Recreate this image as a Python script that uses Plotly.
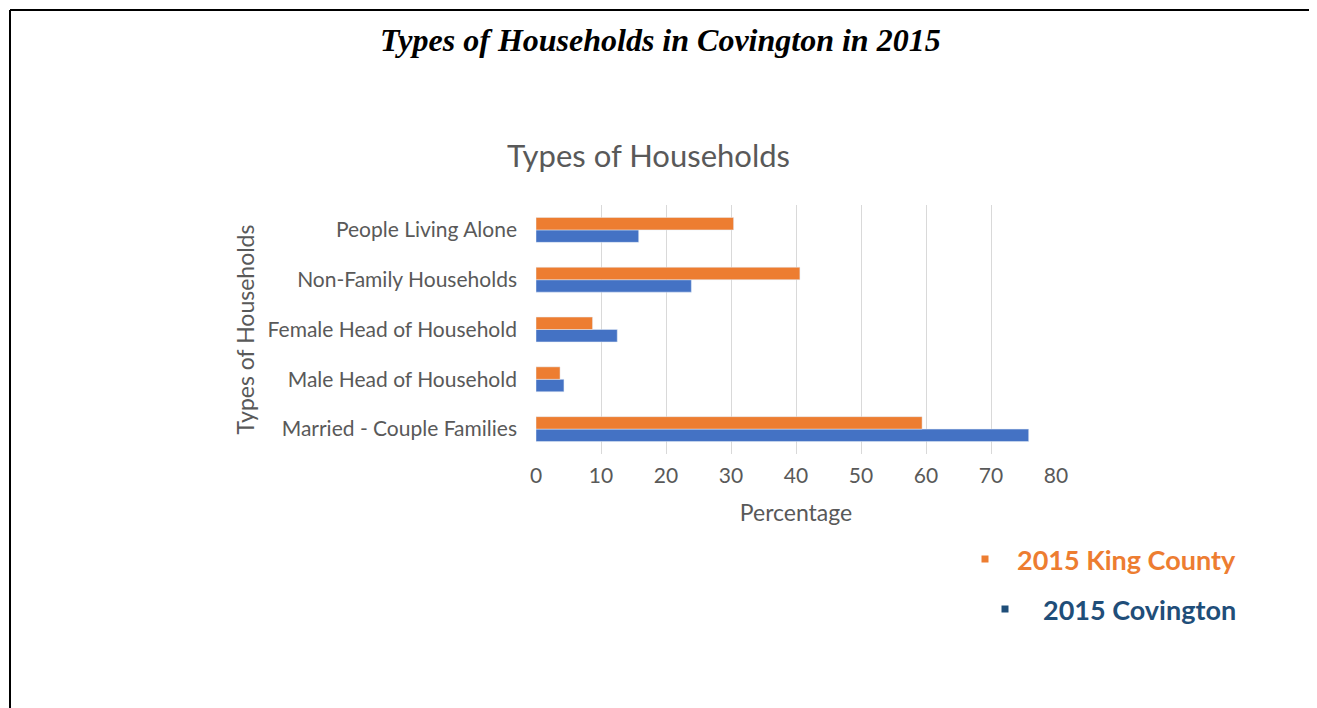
import plotly.graph_objs as go

# data (percent of households)
categories = [
    'Married - Couple Families',
    'Male Head of Household',
    'Female Head of Household',
    'Non-Family Households',
    'People Living Alone',
]
covington = [75.8, 4.3, 12.5, 23.9, 15.8]
king_county = [59.4, 3.7, 8.7, 40.6, 30.4]
series_names = ['2015 Covington', '2015 King County']
x_ticks = [0, 10, 20, 30, 40, 50, 60, 70, 80]

# the page body has an 8px margin, so the figure is shrunk to fit the window
PAD = 8
W, H = 1317 - PAD, 708 - PAD
BLUE = '#4472C4'
ORANGE = '#ED7D31'
GREY = '#595959'
FONT = 'Lato'


def px_x(v):
    # window pixel -> paper fraction
    return (v - PAD) / W


def px_y(v):
    return 1 - (v - PAD) / H


fig = go.Figure()
fig.add_trace(go.Bar(
    y=categories, x=covington, name=series_names[0],
    orientation='h', marker=dict(color=BLUE),
))
fig.add_trace(go.Bar(
    y=categories, x=king_county, name=series_names[1],
    orientation='h', marker=dict(color=ORANGE),
))

# legend-like labels on the right, as in the source document
legend_items = [
    (series_names[1], ORANGE, 985, 559),
    (series_names[0], '#1F4E79', 1005, 609),
]
shapes = [
    # page frame (no bottom edge)
    dict(type='line', xref='paper', yref='paper',
         x0=px_x(10), x1=px_x(10), y0=px_y(10), y1=0,
         line=dict(color='black', width=2)),
    dict(type='line', xref='paper', yref='paper',
         x0=px_x(1311), x1=px_x(1311), y0=px_y(10), y1=0,
         line=dict(color='black', width=2)),
    dict(type='line', xref='paper', yref='paper',
         x0=px_x(10), x1=px_x(1311), y0=px_y(10), y1=px_y(10),
         line=dict(color='black', width=2)),
]
annotations = [
    dict(text='<b><i>Types of Households in Covington in 2015</i></b>',
         xref='paper', yref='paper', x=px_x(660), y=px_y(40),
         showarrow=False, xanchor='center', yanchor='middle',
         font=dict(family='Liberation Serif', size=32, color='black')),
    dict(text='Types of Households',
         xref='paper', yref='paper', x=px_x(648), y=px_y(155),
         showarrow=False, xanchor='center', yanchor='middle',
         font=dict(family=FONT, size=31, color=GREY)),
]
for name, color, sx, sy in legend_items:
    shapes.append(dict(type='rect', xref='paper', yref='paper',
                       x0=px_x(sx - 3.5), x1=px_x(sx + 3.5),
                       y0=px_y(sy - 3.5), y1=px_y(sy + 3.5),
                       fillcolor=color, line=dict(width=0)))
    annotations.append(dict(
        text='<b>' + name + '</b>', xref='paper', yref='paper',
        x=px_x(1238), y=px_y(sy), showarrow=False,
        xanchor='right', yanchor='middle',
        font=dict(family=FONT, size=27, color=color)))

fig.update_layout(
    width=W, height=H,
    margin=dict(l=0, r=0, t=0, b=0),
    paper_bgcolor='white', plot_bgcolor='white',
    barmode='group', bargap=0.5, bargroupgap=0,
    showlegend=False,
    font=dict(family=FONT, color=GREY),
    xaxis=dict(
        domain=[px_x(536), px_x(1056)],
        range=[0, 80], tickvals=x_ticks,
        showgrid=True, gridcolor='#D9D9D9', gridwidth=1,
        zeroline=False, showline=False,
        tickfont=dict(size=21, color=GREY),
        ticklabelstandoff=7,
        title=dict(text='Percentage', font=dict(size=23, color=GREY), standoff=18),
        automargin=False,
    ),
    yaxis=dict(
        domain=[px_y(454), px_y(205)],
        showgrid=False, zeroline=False, showline=False,
        tickfont=dict(size=21, color=GREY),
        ticklabelstandoff=18,
        title=dict(text='Types of Households', font=dict(size=23, color=GREY), standoff=6),
        automargin=False,
    ),
    shapes=shapes,
    annotations=annotations,
)

fig.write_html('out.html')
